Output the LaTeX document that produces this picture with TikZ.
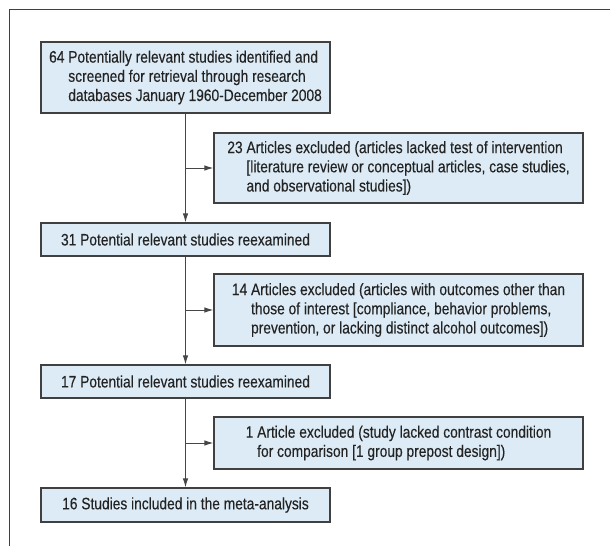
\documentclass[tikz,border=0pt]{standalone}
\usepackage{fontspec}
\setmainfont{Liberation Sans}[FakeStretch=0.83,FakeBold=0.2]
\usetikzlibrary{arrows.meta}
\definecolor{boxfill}{RGB}{220,235,245}
\definecolor{boxline}{RGB}{64,64,64}
\definecolor{conn}{RGB}{70,70,70}
\definecolor{txt}{RGB}{35,35,35}
\begin{document}
\begin{tikzpicture}[x=1pt,y=-1pt,
  flowbox/.style={draw=boxline,fill=boxfill,line width=1.2pt,inner sep=0pt,
    align=left,font=\fontsize{16.6}{19.2}\selectfont,text=txt},
  mainbox/.style={flowbox,minimum width=289pt},
  sidebox/.style={flowbox,minimum width=369pt},
  conn/.style={draw=conn,line width=1pt,-{Latex[length=9pt,width=5.5pt]}}]
\useasboundingbox (0,0) rectangle (610,546);
% frame
\coordinate (fTR) at (610,9.5);
\coordinate (fTL) at (9.5,9.5);
\coordinate (fBL) at (9.5,546);
\draw[line width=1.2pt,draw=boxline] (fTR) -- (fTL) -- (fBL);
% boxes
\node[mainbox,minimum height=71pt] (b1) at (185.5,77.5)
  {64 Potentially relevant studies identified and\\
   \phantom{64 }screened for retrieval through research\\
   \phantom{64 }databases January 1960-December 2008};
\node[sidebox,minimum height=70pt] (b2) at (398.5,168)
  {23 Articles excluded (articles lacked test of intervention\\
   \phantom{23 }[literature review or conceptual articles, case studies,\\
   \phantom{23 }and observational studies])};
\node[mainbox,minimum height=33pt] (b3) at (185.5,239.5)
  {31 Potential relevant studies reexamined};
\node[sidebox,minimum height=72pt] (b4) at (398.5,310)
  {14 Articles excluded (articles with outcomes other than\\
   \phantom{14 }those of interest [compliance, behavior problems,\\
   \phantom{14 }prevention, or lacking distinct alcohol outcomes])};
\node[mainbox,minimum height=33pt] (b5) at (185.5,381.5)
  {17 Potential relevant studies reexamined};
\node[sidebox,minimum height=52pt] (b6) at (398.5,443)
  {1 Article excluded (study lacked contrast condition\\
   \phantom{1 }for comparison [1 group prepost design])};
\node[mainbox,minimum height=34pt] (b7) at (185.5,505)
  {16 Studies included in the meta-analysis};
% connectors
\draw[conn] (b1.south) -- (b3.north);
\draw[conn] (b1.south |- b2.west) -- (b2.west);
\draw[conn] (b3.south) -- (b5.north);
\draw[conn] (b3.south |- b4.west) -- (b4.west);
\draw[conn] (b5.south) -- (b7.north);
\draw[conn] (b5.south |- b6.west) -- (b6.west);
\end{tikzpicture}
\end{document}
